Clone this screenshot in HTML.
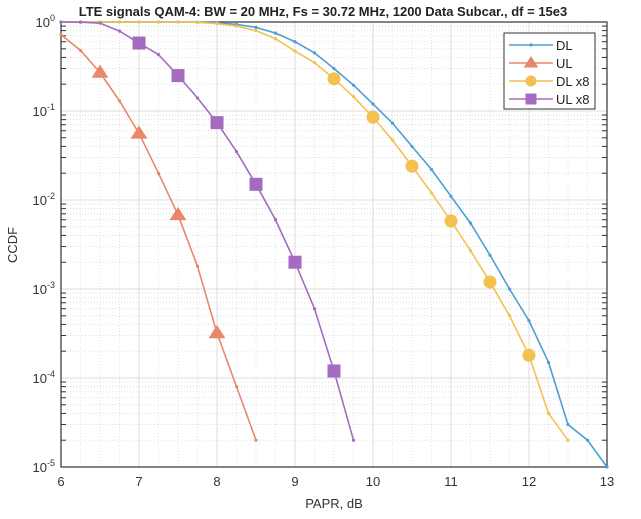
<!DOCTYPE html>
<html><head><meta charset="utf-8"><style>
body{margin:0;background:#fff;}
svg{display:block;font-family:"Liberation Sans",Arial,sans-serif;}
</style></head><body>
<svg id="chart" width="641" height="519">
<rect x="0" y="0" width="641" height="519" fill="#fff"/>
<text x="323" y="16" text-anchor="middle" font-size="13" font-weight="bold" fill="#222">LTE signals QAM-4: BW = 20 MHz, Fs = 30.72 MHz, 1200 Data Subcar., df = 15e3</text>
<g id="grid"></g>
<g id="axes"></g>
<g id="series"></g>
<text x="334" y="508" text-anchor="middle" font-size="13" fill="#333">PAPR, dB</text>
<text transform="translate(17,245) rotate(-90)" text-anchor="middle" font-size="13" fill="#333">CCDF</text>
<g id="legend"></g>
</svg>
<script>
const xTicks=[6,7,8,9,10,11,12,13];
const yDecades=[0,-1,-2,-3,-4,-5];
const seriesNames=["DL","UL","DL x8","UL x8"];
const xDL=[6,6.25,6.5,6.75,7,7.25,7.5,7.75,8,8.25,8.5,8.75,9,9.25,9.5,9.75,10,10.25,10.5,10.75,11,11.25,11.5,11.75,12,12.25,12.5,12.75,13];
const yDL=[1,1,1,1,1,1,1,0.995,0.98,0.94,0.87,0.75,0.6,0.45,0.3,0.195,0.12,0.073,0.04,0.022,0.011,0.0055,0.0024,0.001,0.00044,0.00015,0.00003,0.00002,0.00001];
const xUL=[6,6.25,6.5,6.75,7,7.25,7.5,7.75,8,8.25,8.5];
const yUL=[0.72,0.48,0.27,0.13,0.056,0.02,0.0068,0.0018,0.00032,0.00008,0.00002];
const mUL=[6.5,7,7.5,8];
const xDL8=[6,6.25,6.5,6.75,7,7.25,7.5,7.75,8,8.25,8.5,8.75,9,9.25,9.5,9.75,10,10.25,10.5,10.75,11,11.25,11.5,11.75,12,12.25,12.5];
const yDL8=[1,1,1,1,1,1,1,0.99,0.96,0.9,0.8,0.65,0.47,0.35,0.23,0.145,0.085,0.047,0.024,0.012,0.0058,0.0027,0.0012,0.0005,0.00018,0.00004,0.00002];
const mDL8=[9.5,10,10.5,11,11.5,12];
const xUL8=[6,6.25,6.5,6.75,7,7.25,7.5,7.75,8,8.25,8.5,8.75,9,9.25,9.5,9.75];
const yUL8=[1,0.995,0.97,0.79,0.58,0.43,0.25,0.14,0.074,0.035,0.015,0.006,0.002,0.0006,0.00012,0.00002];
const mUL8=[7,7.5,8,8.5,9,9.5];

const L=61,R=607,T=22,B=467;
const X=v=>L+(v-6)/(13-6)*(R-L);
const Y=v=>T+(-Math.log10(v))/5*(B-T);
const NS="http://www.w3.org/2000/svg";
function mk(tag,attrs,parent){const e=document.createElementNS(NS,tag);for(const k in attrs)e.setAttribute(k,attrs[k]);parent.appendChild(e);return e;}
const grid=document.getElementById('grid'),axes=document.getElementById('axes'),ser=document.getElementById('series'),leg=document.getElementById('legend');
for(let d=0;d<5;d++){for(let m=2;m<=9;m++){const y=Y(m*Math.pow(10,-(d+1)));
 const g=mk('line',{x1:L,x2:R,y1:y,y2:y,stroke:'#ddd','stroke-width':1,'stroke-dasharray':'1,2'},grid);
 
 
 mk('line',{x1:L,x2:L+5,y1:y,y2:y,stroke:'#333','stroke-width':1},axes);mk('line',{x1:R,x2:R-5,y1:y,y2:y,stroke:'#333','stroke-width':1},axes);}}
for(let v=6.25;v<13;v+=0.25){if(Number.isInteger(v))continue;const x=X(v);
 const g=mk('line',{x1:x,x2:x,y1:T,y2:B,stroke:'#e2e2e2','stroke-width':1,'stroke-dasharray':'1,2'},grid);
 
 }
xTicks.forEach(v=>{const x=X(v);
 const g=mk('line',{x1:x,x2:x,y1:T,y2:B,stroke:'#dcdcdc','stroke-width':1},grid);
 
 
 const t=mk('text',{x:x,y:B+19,'text-anchor':'middle','font-size':13,fill:'#333'},axes);t.textContent=v;
 
 });
yDecades.forEach(d=>{const y=Y(Math.pow(10,d));
 const g=mk('line',{x1:L,x2:R,y1:y,y2:y,stroke:'#dcdcdc','stroke-width':1},grid);
 
 
 const t=mk('text',{x:L-6,y:y+5,'text-anchor':'end','font-size':13,fill:'#333'},axes);
 t.innerHTML='10<tspan dy="-6" font-size="9">'+d+'</tspan>';
 
 });
const frame=mk('rect',{x:L,y:T,width:R-L,height:B-T,fill:'none',stroke:'#333','stroke-width':1.2},axes);



function marker(type,x,y,c,parent,size){let e;
 if(type==='tri'){const s=size;e=mk('polygon',{points:`${x},${y-s} ${x-s*1.05},${y+s*0.65} ${x+s*1.05},${y+s*0.65}`,fill:c},parent);}
 else if(type==='circ'){e=mk('circle',{cx:x,cy:y,r:size,fill:c},parent);}
 else if(type==='sq'){e=mk('rect',{x:x-size,y:y-size,width:size*2,height:size*2,fill:c},parent);}
 else {e=mk('circle',{cx:x,cy:y,r:1.6,fill:c},parent);}
 return e;}
const defs=[
 {name:'dl',xs:xDL,ys:yDL,ms:[],c:'#4A9FD8',t:'dot'},
 {name:'ul',xs:xUL,ys:yUL,ms:mUL,c:'#E8876A',t:'tri'},
 {name:'dl-x8',xs:xDL8,ys:yDL8,ms:mDL8,c:'#F3C150',t:'circ'},
 {name:'ul-x8',xs:xUL8,ys:yUL8,ms:mUL8,c:'#A56BBE',t:'sq'}];
defs.forEach(s=>{const g=mk('g',{},ser);
 
 
 const pts=s.xs.map((v,i)=>X(v)+','+Y(s.ys[i])).join(' ');
 const pl=mk('polyline',{points:pts,fill:'none',stroke:s.c,'stroke-width':1.6},g);
 
 
 s.xs.forEach((v,i)=>{const m=marker('dot',X(v),Y(s.ys[i]),s.c,g);
  
  });
 s.ms.forEach(v=>{const i=s.xs.indexOf(v);const m=marker(s.t,X(v),Y(s.ys[i]),s.c,g,s.t==='tri'?8:6.5);
  
  });});
const lb=mk('rect',{x:504,y:33,width:91,height:76,fill:'#fff',stroke:'#333','stroke-width':1},leg);


defs.forEach((s,i)=>{const y=45+i*18;const g=mk('g',{},leg);
 
 
 mk('line',{x1:509,x2:553,y1:y,y2:y,stroke:s.c,'stroke-width':1.6},g);
 marker(s.t==='dot'?'dot':s.t,531,y,s.c,g,s.t==='tri'?7:5.5);
 const t=mk('text',{x:556,y:y+5,'font-size':13,fill:'#222'},g);t.textContent=seriesNames[i];});
</script>
</body></html>
